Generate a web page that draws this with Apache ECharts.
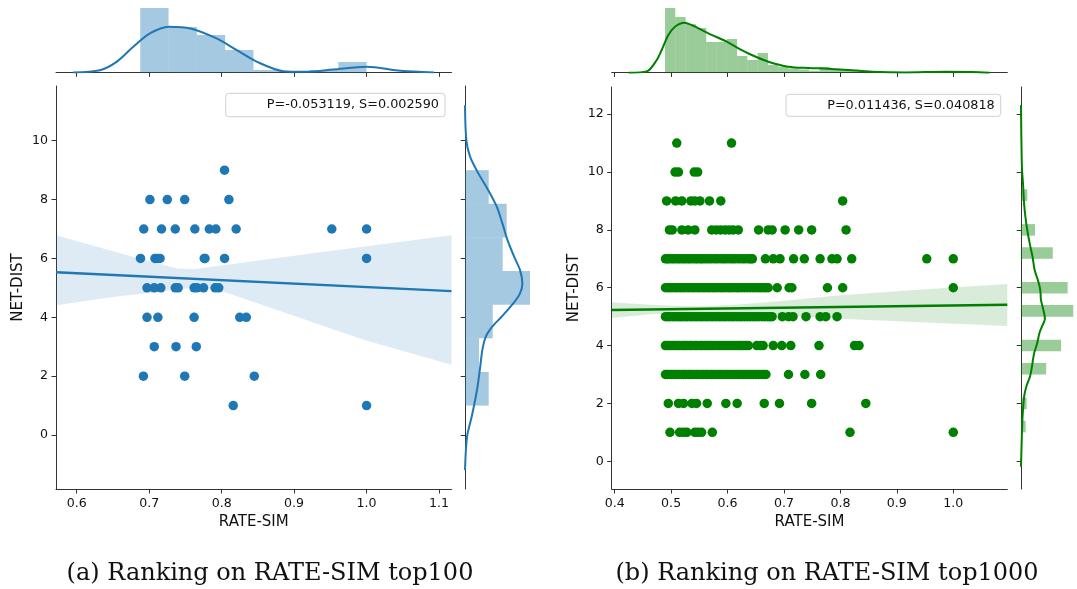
<!DOCTYPE html>
<html>
<head>
<meta charset="utf-8">
<script src="https://cdn.jsdelivr.net/npm/echarts@6/dist/echarts.min.js"></script>
<style>
  html, body { margin: 0; padding: 0; background: #ffffff; }
  #chart { width: 1077px; height: 589px; }
</style>
</head>
<body>
<div id="chart"></div>
<script>
// ---------------- (a) top100 ----------------
// NET-DIST level -> RATE-SIM values of the points on that level
const top100Points = [
  [9, [0.804]],
  [8, [0.701, 0.725, 0.749, 0.810]],
  [7, [0.6925, 0.717, 0.736, 0.763, 0.783, 0.792, 0.820, 0.952, 1.0]],
  [6, [0.688, 0.708, 0.711, 0.715, 0.776, 0.777, 0.804, 1.0]],
  [5, [0.697, 0.707, 0.716, 0.736, 0.740, 0.762, 0.766, 0.775, 0.791, 0.796]],
  [4, [0.697, 0.712, 0.762, 0.825, 0.834]],
  [3, [0.707, 0.737, 0.765]],
  [2, [0.692, 0.749, 0.845]],
  [1, [0.816, 1.0]]
];
const top100Fit = [[0.5714, 5.53], [1.1172, 4.89]];
const top100BandUpper = [[0.5714, 6.79], [0.655, 6.21], [0.738, 5.66], [0.761, 5.63], [0.931, 6.19], [1.1172, 6.79]];
const top100BandLower = [[0.5714, 4.41], [0.655, 4.71], [0.738, 4.94], [0.765, 5.01], [0.802, 4.88], [0.996, 3.24], [1.1172, 2.39]];
const top100RateEdges = [0.6877, 0.7267, 0.7658, 0.8048, 0.8439, 0.8829, 0.9219, 0.9610, 1.0];
const top100RateDensity = [8.91, 6.28, 5.18, 3.11, 0.35, 0, 0.35, 1.45];
const top100RateKde = [[0.595, 0], [0.632, 0.32], [0.655, 1.47], [0.678, 3.55], [0.701, 5.39], [0.727, 6.31],
  [0.757, 6.08], [0.793, 4.70], [0.821, 3.08], [0.849, 1.47], [0.885, 0.18], [0.913, 0.09], [0.954, 0.41],
  [1.0, 0.78], [1.047, 0.23], [1.093, 0]];
const top100DistEdges = [1, 2.143, 3.286, 4.429, 5.571, 6.714, 7.857, 9];
const top100DistDensity = [0.0888, 0.0525, 0.1038, 0.2435, 0.1412, 0.1562, 0.0888];
const top100DistKde = [[0, 11.21], [0.005, 10.02], [0.019, 9.46], [0.050, 8.89], [0.087, 8.32], [0.119, 7.76],
  [0.140, 7.19], [0.159, 6.63], [0.184, 6.06], [0.206, 5.61], [0.215, 5.15], [0.206, 4.81], [0.181, 4.47],
  [0.137, 4.02], [0.102, 3.68], [0.078, 3.34], [0.065, 2.89], [0.057, 2.32], [0.045, 1.53], [0.025, 0.62],
  [0.0075, -0.06], [0, -1.19]];
const top100Legend = 'P=-0.053119, S=0.002590';

// ---------------- (b) top1000 ----------------
const top1000Points = [
  [11, [0.510, 0.607]],
  [10, [0.507, 0.513, 0.541, 0.547]],
  [9, [0.492, 0.508, 0.519, 0.535, 0.542, 0.551, 0.568, 0.588, 0.804]],
  [8, [0.497, 0.502, 0.519, 0.530, 0.542, 0.572, 0.580, 0.588, 0.596, 0.603, 0.610, 0.619, 0.655, 0.672,
       0.679, 0.702, 0.726, 0.749, 0.810]],
  [7, [0.490, 0.493, 0.497, 0.502, 0.506, 0.511, 0.515, 0.520, 0.524, 0.529, 0.533, 0.538, 0.543, 0.547,
       0.552, 0.556, 0.561, 0.566, 0.571, 0.577, 0.582, 0.588, 0.593, 0.598, 0.604, 0.609, 0.614, 0.620,
       0.626, 0.631, 0.637, 0.641, 0.644, 0.667, 0.681, 0.693, 0.717, 0.736, 0.764, 0.785, 0.794, 0.820,
       0.953, 1.0]],
  [6, [0.490, 0.494, 0.498, 0.502, 0.507, 0.511, 0.516, 0.520, 0.524, 0.529, 0.533, 0.538, 0.542, 0.547,
       0.551, 0.556, 0.560, 0.565, 0.569, 0.574, 0.578, 0.583, 0.588, 0.592, 0.597, 0.602, 0.606, 0.611,
       0.616, 0.620, 0.625, 0.630, 0.635, 0.640, 0.645, 0.650, 0.655, 0.659, 0.664, 0.668, 0.672, 0.688,
       0.709, 0.714, 0.777, 0.804, 1.0]],
  [5, [0.490, 0.494, 0.498, 0.503, 0.507, 0.512, 0.516, 0.520, 0.525, 0.529, 0.534, 0.538, 0.543, 0.547,
       0.552, 0.556, 0.561, 0.565, 0.570, 0.574, 0.579, 0.584, 0.588, 0.593, 0.597, 0.602, 0.607, 0.611,
       0.616, 0.621, 0.625, 0.630, 0.635, 0.640, 0.645, 0.650, 0.655, 0.661, 0.666, 0.671, 0.675, 0.679,
       0.697, 0.708, 0.716, 0.739, 0.764, 0.774, 0.794]],
  [4, [0.490, 0.494, 0.498, 0.502, 0.507, 0.511, 0.515, 0.520, 0.524, 0.528, 0.533, 0.537, 0.542, 0.546,
       0.551, 0.555, 0.560, 0.564, 0.569, 0.573, 0.578, 0.583, 0.587, 0.592, 0.597, 0.601, 0.606, 0.611,
       0.615, 0.620, 0.624, 0.629, 0.633, 0.637, 0.652, 0.658, 0.663, 0.681, 0.696, 0.712, 0.762, 0.825,
       0.833]],
  [3, [0.490, 0.493, 0.497, 0.501, 0.505, 0.509, 0.513, 0.518, 0.522, 0.526, 0.531, 0.535, 0.539, 0.544,
       0.548, 0.553, 0.557, 0.562, 0.566, 0.571, 0.575, 0.580, 0.585, 0.589, 0.594, 0.599, 0.603, 0.608,
       0.613, 0.618, 0.622, 0.627, 0.632, 0.637, 0.641, 0.646, 0.651, 0.655, 0.660, 0.664, 0.668, 0.708,
       0.737, 0.765]],
  [2, [0.495, 0.513, 0.522, 0.537, 0.545, 0.564, 0.597, 0.617, 0.665, 0.692, 0.749, 0.845]],
  [1, [0.498, 0.515, 0.522, 0.528, 0.542, 0.548, 0.554, 0.573, 0.817, 1.0]]
];
const top1000Fit = [[0.3947, 5.23], [1.0957, 5.41]];
const top1000BandUpper = [[0.3947, 5.50], [0.47, 5.40], [0.55, 5.35], [0.62, 5.42], [0.70, 5.55], [0.80, 5.74], [0.95, 5.95], [1.0957, 6.13]];
const top1000BandLower = [[0.3947, 4.95], [0.47, 5.09], [0.55, 5.15], [0.62, 5.12], [0.70, 5.04], [0.80, 4.93], [0.95, 4.80], [1.0957, 4.68]];
const top1000RateEdges = [0.4892, 0.5074, 0.5257, 0.5439, 0.5622, 0.5804, 0.5987, 0.6169, 0.6351, 0.6534,
  0.6716, 0.6899, 0.7081, 0.7264, 0.7446, 0.7628, 0.7811, 0.7993, 0.8176, 0.8358, 0.8541, 0.8723, 0.8905,
  0.9088, 0.9270, 0.9453, 0.9635, 0.9818, 1.0];
const top1000RateDensity = [8.83, 7.60, 6.64, 6.10, 4.19, 4.19, 4.60, 2.28, 1.73, 2.69, 1.05, 0.82, 0.59,
  0.45, 0.27, 0.78, 0.55, 0.45, 0.27, 0.14, 0, 0, 0, 0, 0, 0.14, 0, 0.23];
const top1000RateKde = [[0.425, 0], [0.457, 0.18], [0.4745, 1.73], [0.4833, 3.10], [0.4951, 5.14], [0.5069, 6.28],
  [0.5234, 6.82], [0.5424, 6.28], [0.566, 5.36], [0.5986, 4.23], [0.6192, 3.32], [0.6429, 2.41], [0.6723, 1.50],
  [0.7078, 0.82], [0.7433, 0.64], [0.7787, 0.55], [0.8142, 0.37], [0.8556, 0.14], [0.9147, 0.04], [0.9856, 0.14],
  [1.033, 0.10], [1.064, 0]];
const top1000DistLow = [1.0, 1.8, 3.0, 3.8, 5.0, 5.8, 7.0, 7.8, 9.0, 9.8, 10.6];
const top1000DistHigh = [1.4, 2.2, 3.4, 4.2, 5.4, 6.2, 7.4, 8.2, 9.4, 10.2, 11.0];
const top1000DistDensity = [0.051, 0.062, 0.277, 0.441, 0.574, 0.513, 0.349, 0.154, 0.069, 0.010, 0.005];
const top1000DistKde = [[0, 12.32], [0.010, 10.19], [0.024, 9.50], [0.031, 9.04], [0.048, 8.46], [0.075, 7.88],
  [0.103, 7.42], [0.127, 7.07], [0.150, 6.61], [0.185, 6.27], [0.205, 6.04], [0.215, 5.81], [0.219, 5.58],
  [0.246, 5.23], [0.263, 4.94], [0.229, 4.65], [0.202, 4.43], [0.178, 4.08], [0.144, 3.73], [0.120, 3.27],
  [0.099, 2.93], [0.058, 2.58], [0.034, 2.23], [0.017, 1.54], [0.010, 0.97], [0, -0.19]];
const top1000Legend = 'P=0.011436, S=0.040818';

// tick positions
const top100RateTicks = [0.6, 0.7, 0.8, 0.9, 1.0, 1.1];
const top100DistTicks = [0, 2, 4, 6, 8, 10];
const top1000RateTicks = [0.4, 0.5, 0.6, 0.7, 0.8, 0.9, 1.0];
const top1000DistTicks = [0, 2, 4, 6, 8, 10, 12];

const captions = ['(a) Ranking on RATE-SIM top100', '(b) Ranking on RATE-SIM top1000'];

// ---------------- drawing ----------------
const FONT = 'DejaVu Sans';
const AXIS = '#333333';
const TXT = '#111111';
const BLUE = '#1f77b4', GREEN = '#008000';

function points(rows) {
  const out = [];
  rows.forEach(([dist, rates]) => rates.forEach(r => out.push([r, dist])));
  return out;
}
function binsFromEdges(edges, dens) {
  return dens.map((d, i) => [edges[i], edges[i + 1], d]);
}

function mainX(gridIndex, min, max, ticks) {
  return {
    type: 'value', gridIndex, min, max,
    name: 'RATE-SIM', nameLocation: 'middle', nameGap: 24,
    nameTextStyle: { fontFamily: FONT, fontSize: 15, color: TXT },
    axisLine: { show: true, onZero: false, lineStyle: { color: AXIS, width: 1 } },
    axisTick: { show: true, length: 4.5, customValues: ticks, lineStyle: { color: AXIS } },
    axisLabel: { customValues: ticks, formatter: v => v.toFixed(1), fontFamily: FONT, fontSize: 12.6, color: TXT, margin: 8 },
    splitLine: { show: false }
  };
}
function mainY(gridIndex, min, max, ticks) {
  return {
    type: 'value', gridIndex, min, max,
    name: 'NET-DIST', nameLocation: 'middle', nameGap: 30,
    nameTextStyle: { fontFamily: FONT, fontSize: 15, color: TXT },
    axisLine: { show: true, onZero: false, lineStyle: { color: AXIS, width: 1 } },
    axisTick: { show: true, length: 4.5, customValues: ticks, lineStyle: { color: AXIS } },
    axisLabel: { customValues: ticks, formatter: v => String(v), fontFamily: FONT, fontSize: 12.6, color: TXT, margin: 8 },
    splitLine: { show: false }
  };
}
function margX(gridIndex, min, max, ticks) {
  return {
    type: 'value', gridIndex, min, max,
    axisLine: { show: true, onZero: false, lineStyle: { color: AXIS, width: 1 } },
    axisTick: { show: true, length: 4.3, customValues: ticks, lineStyle: { color: AXIS } },
    axisLabel: { show: false }, splitLine: { show: false }
  };
}
function margY(gridIndex, min, max, ticks) {
  return {
    type: 'value', gridIndex, min, max,
    axisLine: { show: true, onZero: false, lineStyle: { color: AXIS, width: 1 } },
    axisTick: { show: true, length: 4.3, customValues: ticks, lineStyle: { color: AXIS } },
    axisLabel: { show: false }, splitLine: { show: false }
  };
}
function hiddenAxis(gridIndex, min, max) {
  return { type: 'value', gridIndex, min, max, show: false, splitLine: { show: false } };
}

function bandSeries(xi, yi, upper, lower, fill) {
  return {
    type: 'custom', xAxisIndex: xi, yAxisIndex: yi, data: [[upper[0][0], upper[0][1]]], z: 1, clip: true,
    silent: true,
    renderItem: (params, api) => {
      const pts = upper.map(p => api.coord(p)).concat(lower.slice().reverse().map(p => api.coord(p)));
      return { type: 'polygon', shape: { points: pts }, style: { fill } };
    }
  };
}
function vBars(xi, yi, bins, fill) {
  return {
    type: 'custom', xAxisIndex: xi, yAxisIndex: yi, data: bins, z: 1, silent: true,
    encode: { x: [0, 1], y: 2 },
    renderItem: (params, api) => {
      const a = api.coord([api.value(0), 0]);
      const b = api.coord([api.value(1), api.value(2)]);
      return { type: 'rect', shape: { x: a[0], y: b[1], width: b[0] - a[0], height: a[1] - b[1] }, style: { fill } };
    }
  };
}
function hBars(xi, yi, bins, fill) {
  return {
    type: 'custom', xAxisIndex: xi, yAxisIndex: yi, data: bins, z: 1, silent: true,
    encode: { y: [0, 1], x: 2 },
    renderItem: (params, api) => {
      const a = api.coord([0, api.value(0)]);
      const b = api.coord([api.value(2), api.value(1)]);
      return { type: 'rect', shape: { x: a[0], y: b[1], width: b[0] - a[0], height: a[1] - b[1] }, style: { fill } };
    }
  };
}
function curve(xi, yi, data, color, width) {
  return {
    type: 'line', xAxisIndex: xi, yAxisIndex: yi, data, smooth: 0.3, symbol: 'none', z: 3, silent: true,
    lineStyle: { color, width }, clip: true
  };
}
function dots(xi, yi, data, color) {
  return {
    type: 'scatter', xAxisIndex: xi, yAxisIndex: yi, data, symbolSize: 9.5, z: 2, silent: true,
    itemStyle: { color, opacity: 1 }
  };
}
function legendBox(x, y, w, h, text) {
  return {
    type: 'group', z: 10, children: [
      { type: 'rect', shape: { x, y, width: w, height: h, r: 3 },
        style: { fill: 'rgba(255,255,255,0.8)', stroke: '#d0d0d0', lineWidth: 1 } },
      { type: 'text', x: x + w - 6, y: y + h / 2,
        style: { text, fontFamily: FONT, fontSize: 12.8, fill: TXT, align: 'right', verticalAlign: 'middle' } }
    ]
  };
}

const top100DistBins = binsFromEdges(top100DistEdges, top100DistDensity);
const top1000DistBins = top1000DistDensity.map((d, i) => [top1000DistLow[i], top1000DistHigh[i], d]);

const option = {
  animation: false,
  backgroundColor: '#ffffff',
  grid: [
    { left: 56, top: 86, width: 395.5, height: 403 },
    { left: 56, top: 0, width: 395.5, height: 72.5 },
    { left: 465, top: 86, width: 80, height: 403 },
    { left: 611.7, top: 87, width: 395.6, height: 402 },
    { left: 611.7, top: 0, width: 395.6, height: 72.7 },
    { left: 1021, top: 87, width: 60, height: 402 }
  ],
  xAxis: [
    mainX(0, 0.5714, 1.1172, top100RateTicks),
    margX(1, 0.5714, 1.1172, top100RateTicks),
    hiddenAxis(2, 0, 0.2997),
    mainX(3, 0.3947, 1.0957, top1000RateTicks),
    margX(4, 0.3947, 1.0957, top1000RateTicks),
    hiddenAxis(5, 0, 0.6154)
  ],
  yAxis: [
    mainY(0, -1.835, 11.86, top100DistTicks),
    hiddenAxis(1, 0, 10.01),
    margY(2, -1.835, 11.86, top100DistTicks),
    mainY(3, -0.958, 12.94, top1000DistTicks),
    hiddenAxis(4, 0, 9.92),
    margY(5, -0.958, 12.94, top1000DistTicks)
  ],
  series: [
    // (a)
    bandSeries(0, 0, top100BandUpper, top100BandLower, 'rgba(31,119,180,0.15)'),
    dots(0, 0, points(top100Points), BLUE),
    curve(0, 0, top100Fit, BLUE, 2.4),
    vBars(1, 1, binsFromEdges(top100RateEdges, top100RateDensity), 'rgba(31,119,180,0.4)'),
    curve(1, 1, top100RateKde, BLUE, 2),
    hBars(2, 2, top100DistBins, 'rgba(31,119,180,0.4)'),
    curve(2, 2, top100DistKde, BLUE, 2),
    // (b)
    bandSeries(3, 3, top1000BandUpper, top1000BandLower, 'rgba(0,128,0,0.15)'),
    dots(3, 3, points(top1000Points), GREEN),
    curve(3, 3, top1000Fit, GREEN, 2.4),
    vBars(4, 4, binsFromEdges(top1000RateEdges, top1000RateDensity), 'rgba(0,128,0,0.4)'),
    curve(4, 4, top1000RateKde, GREEN, 2),
    hBars(5, 5, top1000DistBins, 'rgba(0,128,0,0.4)'),
    curve(5, 5, top1000DistKde, GREEN, 2)
  ],
  graphic: [
    legendBox(225.7, 93.3, 219.3, 23.4, top100Legend),
    legendBox(786, 94.3, 214.7, 22, top1000Legend),
    { type: 'text', x: 270, y: 574, z: 10,
      style: { text: captions[0], fontFamily: 'DejaVu Serif', fontSize: 24, fill: TXT, align: 'center', verticalAlign: 'middle' } },
    { type: 'text', x: 827, y: 574, z: 10,
      style: { text: captions[1], fontFamily: 'DejaVu Serif', fontSize: 24, fill: TXT, align: 'center', verticalAlign: 'middle' } }
  ]
};

const chart = echarts.init(document.getElementById('chart'), null, { renderer: 'canvas' });
chart.setOption(option);
</script>
</body>
</html>
